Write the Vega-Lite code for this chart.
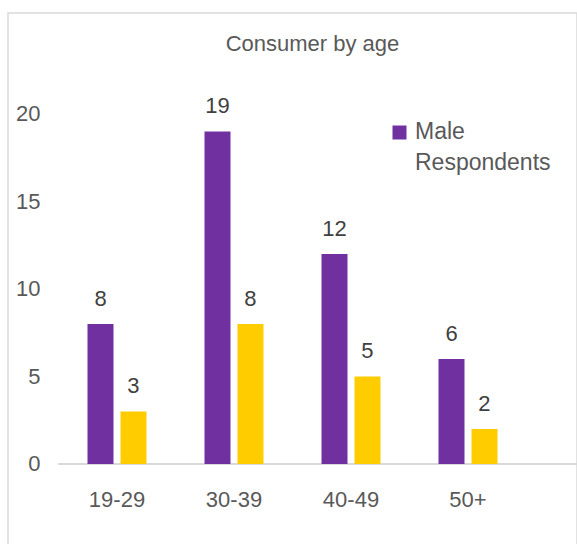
{
  "$schema": "https://vega.github.io/schema/vega-lite/v6.json",
  "width": 569,
  "height": 532,
  "autosize": {"type": "none"},
  "padding": {"left": 8, "top": 13, "right": 0, "bottom": 0},
  "background": "white",
  "config": {
    "view": {"stroke": "#d9d9d9", "strokeWidth": 1.5},
    "font": "Liberation Sans"
  },
  "title": {
    "text": "Consumer by age",
    "fontSize": 22,
    "fontWeight": "normal",
    "color": "#595959",
    "offset": -60,
    "baseline": "alphabetic",
    "anchor": "middle",
    "dx": 20
  },
  "data": {
    "values": [
      {"age": "19-29", "gender": "Male Respondents", "value": 8},
      {"age": "19-29", "gender": "Female Respondents", "value": 3},
      {"age": "30-39", "gender": "Male Respondents", "value": 19},
      {"age": "30-39", "gender": "Female Respondents", "value": 8},
      {"age": "40-49", "gender": "Male Respondents", "value": 12},
      {"age": "40-49", "gender": "Female Respondents", "value": 5},
      {"age": "50+", "gender": "Male Respondents", "value": 6},
      {"age": "50+", "gender": "Female Respondents", "value": 2}
    ]
  },
  "encoding": {
    "x": {
      "field": "age",
      "type": "nominal",
      "sort": ["19-29", "30-39", "40-49", "50+"],
      "title": null,
      "scale": {"paddingInner": 0, "paddingOuter": 0.4316, "align": 0.5},
      "axis": {
        "orient": "bottom",
        "offset": -81,
        "domain": false,
        "ticks": false,
        "tickSize": 0,
        "labelAngle": 0,
        "labelFontSize": 22,
        "labelColor": "#595959",
        "labelBaseline": "alphabetic",
        "labelPadding": 42
      }
    },
    "y": {
      "field": "value",
      "type": "quantitative",
      "title": null,
      "scale": {"domain": [-4.6286, 25.7714], "nice": false, "zero": false},
      "axis": {
        "orient": "left",
        "offset": -34,
        "domain": false,
        "ticks": false,
        "tickSize": 0,
        "grid": false,
        "values": [0, 5, 10, 15, 20],
        "labelFontSize": 22,
        "labelColor": "#595959",
        "labelPadding": 2
      }
    }
  },
  "layer": [
    {
      "mark": {"type": "rule", "color": "#d9d9d9", "strokeWidth": 1.5},
      "encoding": {
        "x": {"datum": "19-29", "type": "nominal", "bandPosition": 0},
        "x2": {"value": {"expr": "width"}},
        "y": {"datum": 0, "type": "quantitative"}
      }
    },
    {
      "mark": {"type": "bar"},
      "encoding": {
        "xOffset": {
          "field": "gender",
          "type": "nominal",
          "sort": ["Male Respondents", "Female Respondents"],
          "scale": {"paddingInner": 0.212, "paddingOuter": 0.879}
        },
        "y2": {"datum": 0},
        "color": {
          "field": "gender",
          "type": "nominal",
          "scale": {"domain": ["Male Respondents", "Female Respondents"], "range": ["#7030A0", "#FFCC00"]},
          "legend": {
            "values": ["Male Respondents"],
            "orient": "none",
            "legendX": 380,
            "legendY": 108,
            "title": null,
            "symbolType": "square",
            "symbolSize": 196,
            "symbolStrokeWidth": 0,
            "labelFontSize": 23,
            "labelColor": "#595959",
            "labelOffset": 4,
            "labelLimit": 0,
            "labelExpr": "split(datum.label, ' ')",
            "labelBaseline": "alphabetic",
            "encode": {"labels": {"update": {"dy": {"value": 6}, "lineHeight": {"value": 31}}}}
          }
        }
      }
    },
    {
      "mark": {"type": "text", "baseline": "alphabetic", "dy": -18, "fontSize": 22, "color": "#404040"},
      "encoding": {
        "xOffset": {
          "field": "gender",
          "type": "nominal",
          "sort": ["Male Respondents", "Female Respondents"]
        },
        "text": {"field": "value", "type": "quantitative"}
      }
    }
  ]
}
